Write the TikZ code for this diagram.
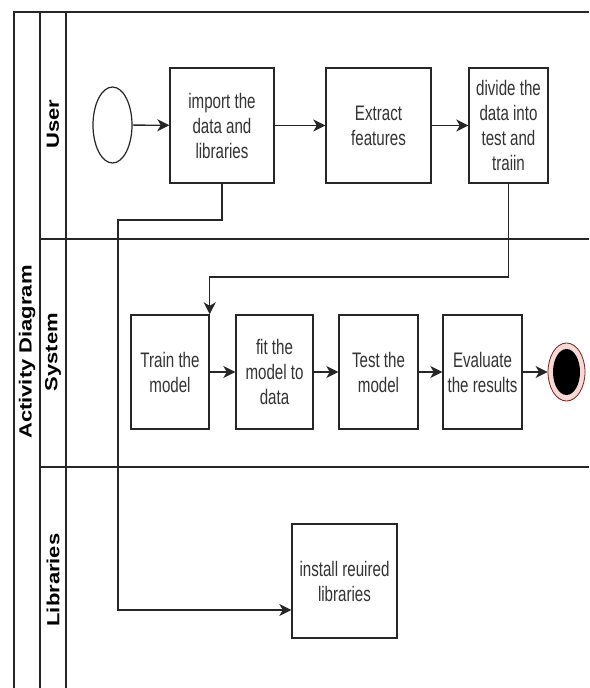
\documentclass[tikz,border=0pt]{standalone}
\usepackage{fontspec}
\setmainfont{Liberation Sans}
\newfontfamily\boxfont[FakeStretch=0.72]{Liberation Sans}
\usetikzlibrary{arrows.meta,shapes.geometric}
\definecolor{linec}{HTML}{262626}
\definecolor{txtc}{HTML}{333333}
\definecolor{ringc}{HTML}{F6D9D5}
\definecolor{ringedge}{HTML}{7A1E1E}
\begin{document}
\begin{tikzpicture}[x=1pt,y=-1pt,
  actbox/.style={draw=linec, line width=1.4pt, align=center, text=txtc,
    font=\boxfont\fontsize{21}{25}\selectfont, inner sep=0pt, minimum height=115pt},
  lane/.style={draw=linec, line width=1.2pt},
  flow/.style={draw=linec, line width=1.3pt, -{Stealth[length=12pt,width=12pt,inset=3.5pt]}},
  lanelabel/.style={rotate=90, text=black, inner sep=0pt, font=\bfseries\fontsize{22}{26}\selectfont}
]
\useasboundingbox[fill=white] (0,0) rectangle (589,688);
% swimlane frame
\draw[lane] (14,688) -- (14,12) -- (589,12);
\draw[lane] (40,12) -- (40,688);
\draw[lane] (66,12) -- (66,688);
\draw[lane] (40,239) -- (589,239);
\draw[lane] (40,467) -- (589,467);
% lane labels
\node[lanelabel] (title) at (27,352) {\scalebox{1}[0.8]{Activity Diagram}};
\node[lanelabel] (luser) at (53,124) {\scalebox{1}[0.8]{User}};
\node[lanelabel] (lsys) at (53,352) {\scalebox{1}[0.8]{System}};
\node[lanelabel] (llib) at (53,580) {\scalebox{1}[0.8]{Libraries}};
% nodes
\node[draw=linec, line width=1.2pt, ellipse, minimum width=39pt, minimum height=76pt, inner sep=0pt] (start) at (112.5,125) {};
\node[actbox, minimum width=104pt] (imp) at (222,125.5) {import the\\data and\\libraries};
\node[actbox, minimum width=105pt] (ext) at (378.5,125.5) {Extract\\features};
\node[actbox, minimum width=79pt] (div) at (508.5,125.5) {divide the\\data into\\test and\\traiin};
\node[actbox, minimum width=78pt, minimum height=114pt] (train) at (170,372) {Train the\\model};
\node[actbox, minimum width=77pt, minimum height=114pt] (fit) at (274.5,372) {fit the\\model to\\data};
\node[actbox, minimum width=79pt, minimum height=114pt] (test) at (378.5,372) {Test the\\model};
\node[actbox, minimum width=79pt, minimum height=114pt] (eval) at (482.5,372) {Evaluate\\the results};
\node[ellipse, draw=ringedge, line width=0.8pt, fill=ringc, minimum width=37pt, minimum height=58pt, inner sep=0pt] (end) at (566.5,372) {};
\node[ellipse, fill=black, minimum width=27pt, minimum height=46pt, inner sep=0pt] (endin) at (566.5,372) {};
\node[actbox, minimum width=105pt, minimum height=114pt] (inst) at (344.5,581) {install reuired\\libraries};
% connectors
\draw[flow] (start) -- (imp);
\draw[flow] (imp) -- (ext);
\draw[flow] (ext) -- (div);
\draw[flow] (train) -- (fit);
\draw[flow] (fit) -- (test);
\draw[flow] (test) -- (eval);
\draw[flow] (eval) -- (end);
\coordinate (a1) at (222,220);
\coordinate (a2) at (118,220);
\coordinate (a3) at (118,610);
\draw[flow] (imp.south) -- (a1) -- (a2) -- (a3) -- (a3 -| inst.west);
\coordinate (b1) at (508.5,277);
\draw[flow] (div.south) -- (b1) -- (b1 -| train.north east) -- (train.north east);
\end{tikzpicture}
\end{document}
